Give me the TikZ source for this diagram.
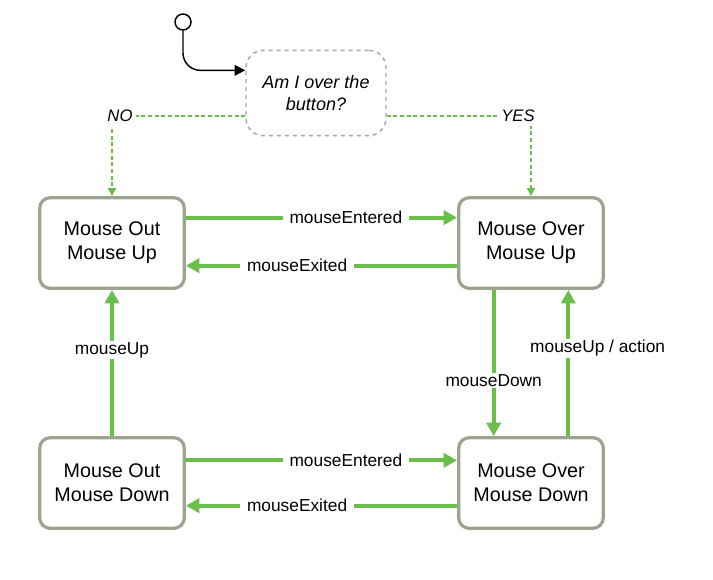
\documentclass[tikz,border=0pt]{standalone}
\usepackage{fontspec}
\setmainfont{Liberation Sans}
\usetikzlibrary{arrows.meta}
\definecolor{edgegreen}{HTML}{6ABF4B}
\definecolor{boxgray}{HTML}{9CA38F}
\definecolor{dashgray}{HTML}{A6A99C}
\tikzset{
  state/.style={draw=boxgray, line width=2.4pt, rounded corners=8pt, fill=white,
    minimum width=108.5pt, minimum height=68pt, align=center,
    font=\fontsize{14.8}{18}\selectfont},
  question/.style={draw=dashgray, dashed, line width=1.1pt, rounded corners=13pt,
    minimum width=105pt, minimum height=64pt, align=center,
    font=\itshape\fontsize{13.5}{17}\selectfont},
  trans/.style={draw=edgegreen, line width=3pt, -{Triangle[length=10pt,width=10.5pt]}},
  guess/.style={draw=edgegreen, line width=1.4pt, dash pattern=on 3pt off 2pt,
    -{Triangle[length=6pt,width=6pt]}},
  lbl/.style={fill=white, inner xsep=5pt, inner ysep=1pt, font=\fontsize{13}{15}\selectfont},
  answer/.style={fill=white, inner xsep=3pt, font=\itshape\fontsize{12.5}{15}\selectfont}
}
\begin{document}
\begin{tikzpicture}[x=0.75pt, y=-0.75pt]
\useasboundingbox (0,0) rectangle (713,579);
% states
\node[state] (outUp) at (112,243) {Mouse Out\\Mouse Up};
\node[state] (overUp) at (531,243) {Mouse Over\\Mouse Up};
\node[state] (outDown) at (112,483) {Mouse Out\\Mouse Down};
\node[state] (overDown) at (531,483) {Mouse Over\\Mouse Down};
% start and question
\node[draw, circle, line width=1.1pt, minimum size=12pt, inner sep=0pt] (start) at (183,22) {};
\node[question] (ask) at (316,93) {Am I over the\\button?};
\draw[line width=1.1pt, rounded corners=13pt, -{Triangle[length=8pt,width=8pt]}]
  (start.south) |- ([yshift=17pt]ask.west);
\draw[guess] ([yshift=-17pt]ask.west) -| node[answer, pos=0.47]{NO} (outUp.north);
\draw[guess] ([yshift=-17pt]ask.east) -| node[answer, pos=0.455]{YES} (overUp.north);
% transitions
\draw[trans] ([yshift=19pt]outUp.east) -- node[lbl, pos=0.59]{mouseEntered} ([yshift=19pt]overUp.west);
\draw[trans] ([yshift=-17pt]overUp.west) -- node[lbl, pos=0.59]{mouseExited} ([yshift=-17pt]outUp.east);
\draw[trans] ([yshift=17pt]outDown.east) -- node[lbl, pos=0.59]{mouseEntered} ([yshift=17pt]overDown.west);
\draw[trans] ([yshift=-17pt]overDown.west) -- node[lbl, pos=0.59]{mouseExited} ([yshift=-17pt]outDown.east);
\draw[trans] (outDown.north) -- node[lbl, pos=0.59]{mouseUp} (outUp.south);
\draw[trans] ([xshift=-28pt]overUp.south) -- node[lbl, pos=0.62]{mouseDown} ([xshift=-28pt]overDown.north);
\draw[trans] ([xshift=28pt]overDown.north) -- node[lbl, pos=0.6, xshift=22pt]{mouseUp / action} ([xshift=28pt]overUp.south);
\end{tikzpicture}
\end{document}
